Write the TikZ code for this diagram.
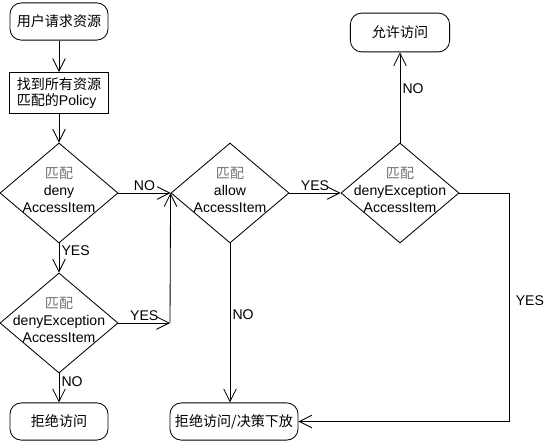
\documentclass[tikz,border=0pt]{standalone}
\usepackage{fontspec}
\setmainfont{Liberation Sans}
\newfontfamily\cjk{Noto Sans CJK SC}
\usetikzlibrary{shapes.geometric,arrows.meta}

\begin{document}
\begin{tikzpicture}[x=0.025cm,y=-0.025cm,line width=0.6pt,
    every node/.style={font=\fontsize{10}{12}\selectfont},
    term/.style={draw,rounded corners=8pt,minimum width=2.45cm,minimum height=0.93cm},
    proc/.style={draw,minimum width=2.48cm,minimum height=0.95cm,align=left},
    decision/.style={draw,diamond,minimum width=2.95cm,minimum height=2.5cm,inner sep=0pt},
    lbl/.style={inner sep=1.5pt},
    >={Straight Barb[length=9pt,width=9pt]}]
    \useasboundingbox (0,0) rectangle (545,446);
    \node[term] (start) at (59,21.5) {\cjk 用户请求资源};
    \node[proc] (policy) at (59,93) {{\cjk 找到所有资源}\\{\cjk 匹配的}Policy};
    \node[decision] (deny) at (59,193) {};
    \node[align=center] at (59,190) {{\cjk\color{black!55}匹配}\\deny\\AccessItem};
    \node[decision] (denyexa) at (59,323) {};
    \node[align=center] at (59,320) {{\cjk\color{black!55}匹配}\\denyException\\AccessItem};
    \node[term] (reject) at (59,421.5) {\cjk 拒绝访问};
    \node[decision] (allow) at (230,193) {};
    \node[align=center] at (230,190) {{\cjk\color{black!55}匹配}\\allow\\AccessItem};
    \node[decision] (denyexb) at (400,193) {};
    \node[align=center] at (400,190) {{\cjk\color{black!55}匹配}\\denyException\\AccessItem};
    \node[term,minimum width=2.48cm,minimum height=0.97cm] (permit) at (400,32.5) {\cjk 允许访问};
    \node[term,minimum width=3.2cm] (final) at (234,421.5) {\cjk 拒绝访问/决策下放};
    \coordinate (join) at (170,323);
    \coordinate (ca) at (509,193);
    \coordinate (cb) at (509,421.5);
    \draw[->] (start) to (policy);
    \draw[->] (policy) to (deny);
    \draw[->] (deny) to node[lbl,above] {NO} (allow);
    \draw[->] (deny) to node[lbl,right,pos=0.25] {YES} (denyexa);
    \draw[->] (denyexa.east) to node[lbl,above] {YES} (join);
    \draw[->] (join) to (allow.west);
    \draw[->] (denyexa) to node[lbl,right,pos=0.3] {NO} (reject);
    \draw[->] (allow) to node[lbl,above] {YES} (denyexb);
    \draw[->] (allow.south) to node[lbl,right,pos=0.45] {NO} (allow.south |- final.north);
    \draw[->] (denyexb) to node[lbl,right,pos=0.6] {NO} (permit);
    \draw[->] (denyexb.east) -- (ca) -- node[lbl,right,pos=0.47,xshift=3pt] {YES} (cb) -- (final.east);
  \end{tikzpicture}
\end{document}
